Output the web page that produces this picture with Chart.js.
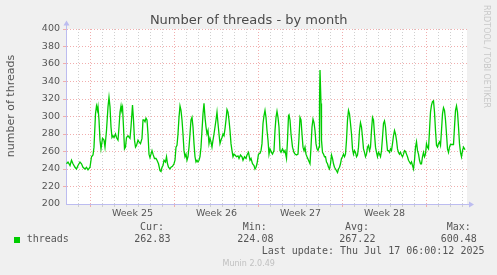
<!DOCTYPE html>
<html><head><meta charset="utf-8">
<script src="https://cdn.jsdelivr.net/npm/chart.js@4/dist/chart.umd.min.js"></script>
<style>html,body{margin:0;padding:0;background:#f0f0f0;overflow:hidden}#wrap{width:497px;height:275px;position:relative}</style>
</head><body><div id="wrap"><canvas id="c" width="497" height="275"></canvas></div>
<script>
const chartTitle = 'Number of threads - by month';
const yAxisTitle = 'number of threads';
const weekLabels = ['Week 25', 'Week 26', 'Week 27', 'Week 28'];
const seriesName = 'threads';
const statNames = ['Cur:', 'Min:', 'Avg:', 'Max:'];
const statValues = ['262.83', '224.08', '267.22', '600.48'];
const lastUpdate = 'Last update: Thu Jul 17 06:00:12 2025';
const footerText = 'Munin 2.0.49';
const watermark = 'RRDTOOL / TOBI OETIKER';

// hours relative to Mon 16 Jun 2025 00:00 (start of week 25)
const hours = [
-48,-45,-41,-38,-35,-31,-28,-25,-21,-18,-15,-11,-8,-5,-1,
2,5,7,10,12,14,15,17,19,21,
24,27,29,32,35,37,39,41,43,45,
47,50,52,55,57,59,61,62,64,66,
68,70,72,75,79,81,84,86,88,90,
92,95,97,100,103,105,107,109,111,113,
115,117,119,121,123,125,128,131,133,136,
139,141,143,145,147,150,152,154,156,159,
161,164,167,169,171,173,175,177,179,181,
183,185,187,189,191,193,195,197,199,201,
203,205,207,209,211,213,215,217,219,221,
223,225,227,229,231,233,235,237,239,241,
243,245,247,249,251,253,255,257,259,261,
263,265,267,269,271,273,275,277,279,281,
283,285,287,289,292,295,297,300,303,305,
308,311,313,316,319,321,324,327,329,331,
333,336,339,341,343,345,347,349,351,353,
355,357,
359,362,364,367,369,371,373,375,377,379,
381,384,387,389,392,394,396,397,399,401,
404,407,409,412,415,417,419,421,423,425,
427,429,431,433,436,439,441,443,445,447,
449,451,453,455,457,458,459,461,462,464,
466,468,470,472,474,476,478,480,482,484,
486,488,490,492,494,496,498,500,502,504,
506,508,510,512,514,516,518,520,522,524,
526,528,530,532,534,536,538,540,542,544,
546,548,550,552,554,556,558,560,562,564,
566,568,570,572,574,576,578,580,582,584,
586,588,590,592,594,596,598,600,602,604,
606,608,610,612,614,616,618,620,622,624,
626,628,630,632,634,636,638,640,642,644,
646,648,650,652,654,656,658,660,662,664,
666,668,670,672,674,676,678,680,682,684,
686,688,690,692,694,696,698,700,702,704,
706,708,710,712,714,716,718,720,722,724,
726,728,730,732,734,736,738,740,742,744,
746,748,749
];

const threads = [
246,248,244,250,246,242,240,244,248,246,242,240,242,239,242,
254,256,265,303,312,307,311,296,273,263,
275,273,265,284,311,322,311,288,276,278,
276,280,276,273,288,305,312,307,311,288,
263,265,276,278,275,288,313,296,273,265,
267,273,271,269,275,296,296,294,298,296,
280,257,253,257,261,257,252,252,250,246,
238,237,242,244,250,248,254,246,242,240,
242,243,246,250,265,267,280,299,312,307,
296,280,261,254,257,250,254,265,280,296,
299,288,269,254,248,250,248,250,254,265,
284,303,315,299,288,280,284,269,275,271,
265,273,280,288,296,305,292,280,269,273,
276,280,278,286,296,308,305,296,284,269,
261,254,257,256,254,255,252,256,254,250,
254,252,256,259,250,252,246,244,240,242,
246,257,258,261,269,292,301,307,299,284,
273,257,
263,259,257,261,284,299,306,299,288,261,
259,263,259,261,252,273,301,302,296,280,
265,259,257,256,257,276,299,296,280,265,
261,265,257,254,250,246,265,288,297,293,
284,269,263,261,265,315,353,315,273,259,
257,254,254,248,246,242,240,246,256,252,
246,242,240,238,236,240,242,246,252,254,
257,254,257,273,296,307,303,292,280,263,
257,261,259,254,256,265,284,293,288,276,
263,259,254,257,265,267,261,265,284,299,
296,280,265,259,254,259,257,254,261,276,
292,295,288,273,261,261,259,263,261,269,
278,284,280,273,263,259,257,259,256,254,
257,261,260,257,254,250,248,246,248,244,
240,250,265,271,261,257,250,246,246,254,
259,254,257,269,265,263,284,305,313,317,
318,305,284,267,265,269,271,267,284,303,
310,307,296,280,263,259,265,268,268,268,
268,288,307,312,305,288,269,259,254,261,
265,263,262
];

const points = hours.map((h, i) => ({ x: h, y: threads[i] }));

const GRID_MINOR = 'rgba(200,200,200,0.85)';
const GRID_MAJOR = 'rgba(240,165,165,0.9)';
const AXIS_COLOR = '#bcbcf0';
const TEXT_COLOR = '#555555';

const munin = {
  id: 'munin',
  beforeDraw(chart) {
    const ctx = chart.ctx, a = chart.chartArea;
    ctx.save();
    ctx.fillStyle = '#f0f0f0';
    ctx.fillRect(0, 0, chart.width, chart.height);
    ctx.fillStyle = '#ffffff';
    ctx.fillRect(a.left, a.top, a.right - a.left, a.bottom - a.top);
    ctx.restore();
  },
  afterDraw(chart) {
    const ctx = chart.ctx, a = chart.chartArea;
    ctx.save();
    ctx.strokeStyle = AXIS_COLOR; ctx.fillStyle = AXIS_COLOR; ctx.lineWidth = 1;
    const lx = Math.round(a.left) + 0.5, by = Math.round(a.bottom) + 0.5;
    ctx.beginPath(); ctx.moveTo(lx, a.top); ctx.lineTo(lx, 24); ctx.stroke();
    ctx.beginPath(); ctx.moveTo(lx - 3, 25.5); ctx.lineTo(lx + 3, 25.5); ctx.lineTo(lx, 20.5); ctx.closePath(); ctx.fill();
    ctx.beginPath(); ctx.moveTo(a.right, by); ctx.lineTo(470, by); ctx.stroke();
    ctx.beginPath(); ctx.moveTo(469, by - 3); ctx.lineTo(469, by + 3); ctx.lineTo(474, by); ctx.closePath(); ctx.fill();

    ctx.fillStyle = '#4a4a4a';
    ctx.font = '13px "DejaVu Sans"';
    ctx.textAlign = 'center'; ctx.textBaseline = 'alphabetic';
    ctx.fillText(chartTitle, 248.7, 24);

    ctx.save();
    ctx.translate(11, 106);
    ctx.rotate(-Math.PI / 2);
    ctx.fillStyle = TEXT_COLOR;
    ctx.font = '11px "DejaVu Sans"';
    ctx.textAlign = 'center'; ctx.textBaseline = 'middle';
    ctx.fillText(yAxisTitle, 0, 0);
    ctx.restore();

    ctx.save();
    ctx.translate(486.5, 5);
    ctx.rotate(Math.PI / 2);
    ctx.fillStyle = '#c8c8c8';
    ctx.font = '8px "DejaVu Sans"';
    ctx.textAlign = 'left'; ctx.textBaseline = 'middle';
    ctx.fillText(watermark, 0, 0);
    ctx.restore();

    ctx.font = '10px "DejaVu Sans Mono"';
    ctx.textAlign = 'left'; ctx.textBaseline = 'middle';
    ctx.fillStyle = TEXT_COLOR;
    const nameX = [140, 242.7, 345, 446.7];
    const valX = [134.3, 237.3, 339.3, 440.7];
    statNames.forEach((n, i) => ctx.fillText(n, nameX[i], 227.3));
    statValues.forEach((v, i) => ctx.fillText(v, valX[i], 239.7));
    ctx.fillText(seriesName, 26.7, 239.7);
    ctx.fillText(lastUpdate, 261.7, 251.6);
    ctx.fillStyle = chart.data.datasets[0].borderColor;
    ctx.fillRect(14, 237, 6, 6);

    ctx.fillStyle = '#c0c0c0';
    ctx.font = '8px "DejaVu Sans"';
    ctx.textAlign = 'center';
    ctx.fillText(footerText, 248.7, 263.7);
    ctx.restore();
  }
};

new Chart(document.getElementById('c'), {
  type: 'line',
  data: {
    datasets: [{
      label: seriesName,
      data: points,
      borderColor: '#00cc00',
      borderWidth: 1.3,
      pointRadius: 0,
      tension: 0,
      fill: false
    }]
  },
  options: {
    responsive: false,
    animation: false,
    devicePixelRatio: 1,
    layout: { padding: { left: 0, top: 29, right: 30, bottom: 51 } },
    plugins: { legend: { display: false }, tooltip: { enabled: false }, title: { display: false } },
    scales: {
      x: {
        type: 'linear',
        min: -49,
        max: 753,
        afterFit(s) { s.height = 20; },
        afterBuildTicks(s) {
          const t = [];
          for (let h = -48; h <= 744; h += 24) t.push({ value: h });
          weekLabels.forEach((w, i) => t.push({ value: 84 + 168 * i }));
          t.sort((p, q) => p.value - q.value);
          s.ticks = t;
        },
        ticks: {
          autoSkip: false, maxRotation: 0, minRotation: 0, padding: 1,
          color: TEXT_COLOR, font: { family: 'DejaVu Sans', size: 9.5 },
          callback(v) { const i = (v - 84) / 168; return Number.isInteger(i) && weekLabels[i] ? weekLabels[i] : ''; }
        },
        grid: {
          lineWidth: 1, tickLength: 3,
          color(c) {
            const v = c.tick ? c.tick.value : NaN;
            if (v % 168 === 0) return GRID_MAJOR;
            if (v % 24 === 0 && v > -48) return GRID_MINOR;
            return 'rgba(0,0,0,0)';
          }
        },
        border: { color: AXIS_COLOR, width: 1, dash: [1, 2] }
      },
      y: {
        min: 200,
        max: 400,
        afterFit(s) { s.width = 66; },
        ticks: {
          stepSize: 10, padding: 3,
          color: TEXT_COLOR, font: { family: 'DejaVu Sans', size: 9.5 },
          callback(v) { return v % 20 === 0 ? String(v) : ''; }
        },
        grid: {
          lineWidth: 1, tickLength: 3,
          color(c) {
            const v = c.tick ? c.tick.value : NaN;
            if (v === 200) return 'rgba(0,0,0,0)';
            if (v % 20 === 0) return GRID_MAJOR;
            return GRID_MINOR;
          }
        },
        border: { color: AXIS_COLOR, width: 1, dash: [1, 2] }
      }
    }
  },
  plugins: [munin]
});
</script>
</body></html>
